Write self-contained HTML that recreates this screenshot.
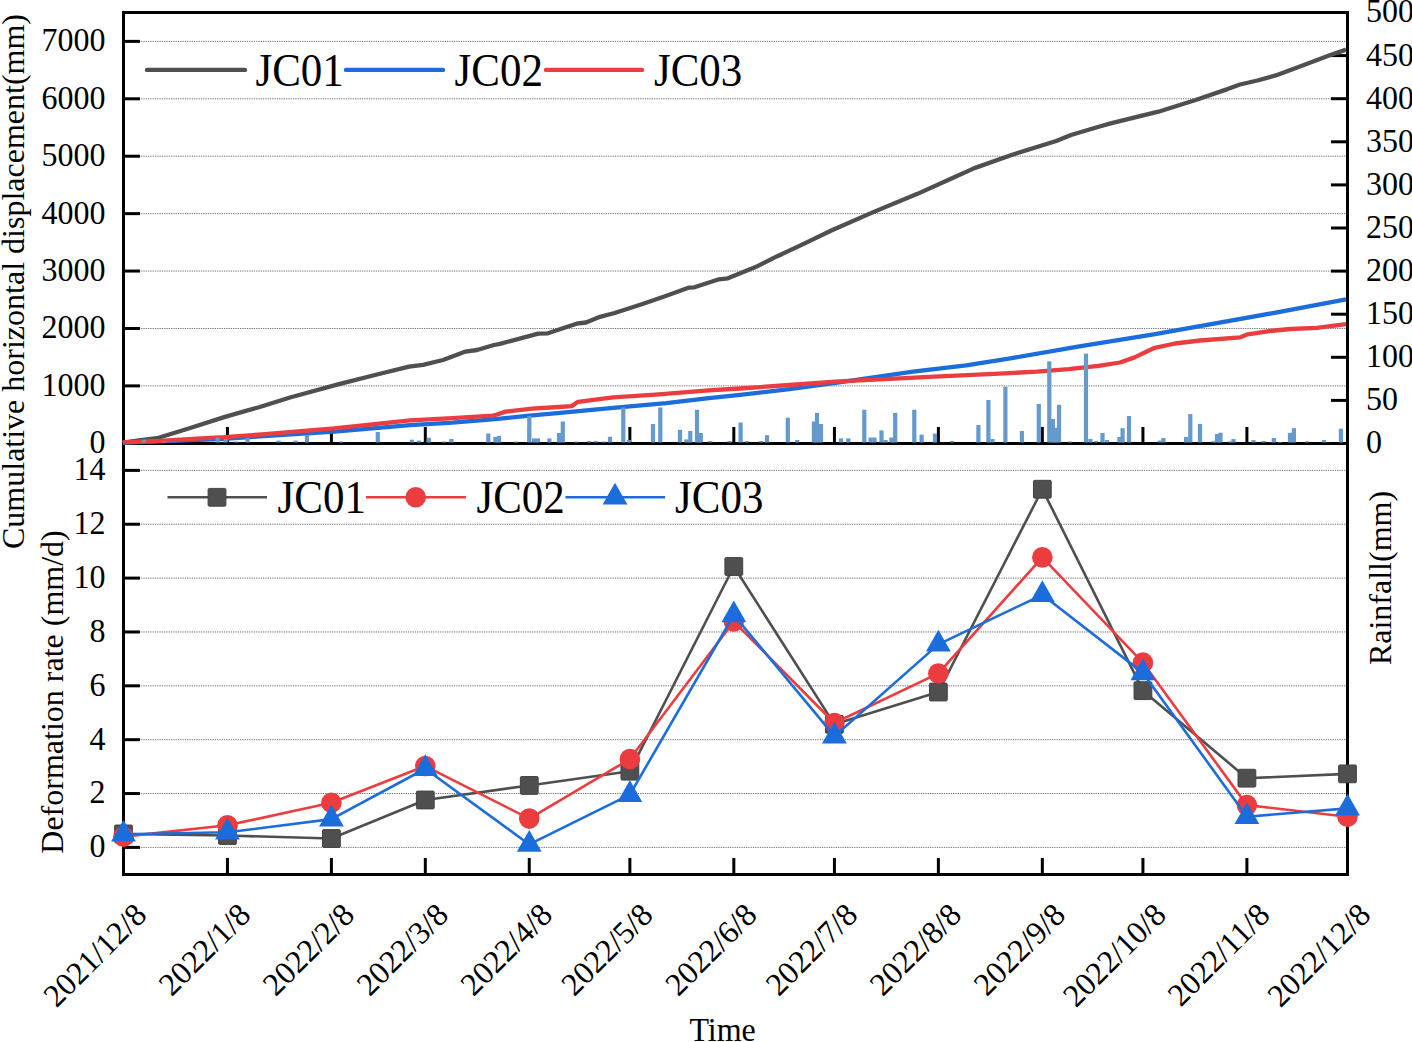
<!DOCTYPE html><html><head><meta charset="utf-8"><style>html,body{margin:0;padding:0;background:#fff;width:1412px;height:1042px;overflow:hidden}svg{display:block}text{font-family:'Liberation Serif',serif;fill:#000}</style></head><body>
<svg width="1412" height="1042" viewBox="0 0 1412 1042">
<rect width="1412" height="1042" fill="#fff"/>
<g stroke="#747474" stroke-width="1" stroke-dasharray="1.3,1" fill="none">
<line x1="125" y1="385.88" x2="1346" y2="385.88"/>
<line x1="125" y1="328.47" x2="1346" y2="328.47"/>
<line x1="125" y1="271.05" x2="1346" y2="271.05"/>
<line x1="125" y1="213.63" x2="1346" y2="213.63"/>
<line x1="125" y1="156.21" x2="1346" y2="156.21"/>
<line x1="125" y1="98.8" x2="1346" y2="98.8"/>
<line x1="125" y1="41.38" x2="1346" y2="41.38"/>
<line x1="125" y1="847.4" x2="1346" y2="847.4"/>
<line x1="125" y1="793.54" x2="1346" y2="793.54"/>
<line x1="125" y1="739.68" x2="1346" y2="739.68"/>
<line x1="125" y1="685.82" x2="1346" y2="685.82"/>
<line x1="125" y1="631.96" x2="1346" y2="631.96"/>
<line x1="125" y1="578.1" x2="1346" y2="578.1"/>
<line x1="125" y1="524.24" x2="1346" y2="524.24"/>
<line x1="125" y1="470.38" x2="1346" y2="470.38"/>
</g>
<g stroke="#000" stroke-width="3" fill="none">
<line x1="125" y1="385.88" x2="140" y2="385.88"/>
<line x1="125" y1="328.47" x2="140" y2="328.47"/>
<line x1="125" y1="271.05" x2="140" y2="271.05"/>
<line x1="125" y1="213.63" x2="140" y2="213.63"/>
<line x1="125" y1="156.21" x2="140" y2="156.21"/>
<line x1="125" y1="98.8" x2="140" y2="98.8"/>
<line x1="125" y1="41.38" x2="140" y2="41.38"/>
<line x1="125" y1="847.4" x2="140" y2="847.4"/>
<line x1="125" y1="793.54" x2="140" y2="793.54"/>
<line x1="125" y1="739.68" x2="140" y2="739.68"/>
<line x1="125" y1="685.82" x2="140" y2="685.82"/>
<line x1="125" y1="631.96" x2="140" y2="631.96"/>
<line x1="125" y1="578.1" x2="140" y2="578.1"/>
<line x1="125" y1="524.24" x2="140" y2="524.24"/>
<line x1="125" y1="470.38" x2="140" y2="470.38"/>
<line x1="1331" y1="400.4" x2="1346" y2="400.4"/>
<line x1="1331" y1="357.3" x2="1346" y2="357.3"/>
<line x1="1331" y1="314.2" x2="1346" y2="314.2"/>
<line x1="1331" y1="271.1" x2="1346" y2="271.1"/>
<line x1="1331" y1="228" x2="1346" y2="228"/>
<line x1="1331" y1="184.9" x2="1346" y2="184.9"/>
<line x1="1331" y1="141.8" x2="1346" y2="141.8"/>
<line x1="1331" y1="98.7" x2="1346" y2="98.7"/>
<line x1="1331" y1="55.6" x2="1346" y2="55.6"/>
<line x1="227.46" y1="427" x2="227.46" y2="442"/>
<line x1="227.46" y1="858" x2="227.46" y2="873"/>
<line x1="331.41" y1="427" x2="331.41" y2="442"/>
<line x1="331.41" y1="858" x2="331.41" y2="873"/>
<line x1="425.31" y1="427" x2="425.31" y2="442"/>
<line x1="425.31" y1="858" x2="425.31" y2="873"/>
<line x1="529.26" y1="427" x2="529.26" y2="442"/>
<line x1="529.26" y1="858" x2="529.26" y2="873"/>
<line x1="629.87" y1="427" x2="629.87" y2="442"/>
<line x1="629.87" y1="858" x2="629.87" y2="873"/>
<line x1="733.82" y1="427" x2="733.82" y2="442"/>
<line x1="733.82" y1="858" x2="733.82" y2="873"/>
<line x1="834.43" y1="427" x2="834.43" y2="442"/>
<line x1="834.43" y1="858" x2="834.43" y2="873"/>
<line x1="938.38" y1="427" x2="938.38" y2="442"/>
<line x1="938.38" y1="858" x2="938.38" y2="873"/>
<line x1="1042.34" y1="427" x2="1042.34" y2="442"/>
<line x1="1042.34" y1="858" x2="1042.34" y2="873"/>
<line x1="1142.94" y1="427" x2="1142.94" y2="442"/>
<line x1="1142.94" y1="858" x2="1142.94" y2="873"/>
<line x1="1246.9" y1="427" x2="1246.9" y2="442"/>
<line x1="1246.9" y1="858" x2="1246.9" y2="873"/>
</g>
<g stroke="#000" stroke-width="3" fill="none" stroke-linecap="square">
<line x1="123.5" y1="12.5" x2="1347.5" y2="12.5"/>
<line x1="123.5" y1="443.5" x2="1347.5" y2="443.5"/>
<line x1="123.5" y1="874.5" x2="1347.5" y2="874.5"/>
<line x1="123.5" y1="12.5" x2="123.5" y2="874.5"/>
<line x1="1347.5" y1="12.5" x2="1347.5" y2="874.5"/>
</g>
<g fill="none" stroke-width="4.3" stroke-linejoin="round" stroke-linecap="butt">
<polyline stroke="#4f4f4f" points="122.8,442.6 139,440.5 157,438.2 191,427.8 225,416.9 259,407.2 290,397.5 338,384.4 375,375 409,366.6 423,364.9 443,360 465.6,351.6 477,350 494,345 500,343.8 538.2,333.6 547.8,333.3 576.5,323.7 586,322.5 600,316.8 614.7,313 642.5,304 665.7,296 689.2,287.6 694.4,287.3 719,279.3 727.9,278.3 755,267.3 777.3,256.2 800,245.6 831.9,230.2 874.4,211.6 916.9,194.1 948.7,179.8 974.4,168.1 1013.7,154.3 1056.2,141 1071,135 1098.7,126.7 1110.6,123.4 1158.4,111.7 1195.6,100 1227.5,89.1 1240,84.5 1257.5,80.5 1275.7,75.4 1297.9,67.3 1330.4,55 1346,49.6"/>
<polyline stroke="#1c6ddc" points="122.8,442.6 160,441.3 192,440.2 225,438.8 260,436.3 334.4,431.6 410,425.2 452.5,422.7 495,419.2 526.9,415.9 560,412.8 613.1,407.9 666.2,403.1 709,398.2 740,394.9 789.6,389.2 839.1,382.4 913.1,371.7 966.2,365.3 1008.7,358.6 1079.4,346.4 1153.7,334.4 1200,326.1 1274.4,312.8 1346,299.4"/>
<polyline stroke="#eb3d3f" points="122.8,442.3 160.5,440.9 192.4,438.8 224.2,437.2 262,434.4 334.4,428.4 410,420.3 452.5,418.1 492.9,415.6 497,414.5 505.6,411.6 532.2,408.6 558.7,407 571.7,406.1 578,401.8 613.1,397.3 655.6,394.6 708.7,390.4 740,388.5 789.6,385 839.1,381.4 860,380.4 934.4,376.6 1005,373.3 1036.9,371.7 1068.7,369.1 1098.5,365.9 1120,362.5 1134.6,357.4 1153.7,348.2 1175,343.5 1200,340.5 1240.4,337.3 1247.8,334.3 1269,331.1 1290.3,329 1316.9,327.9 1346,324.2"/>
</g>
<g fill="#6699cc">
<rect x="141.9" y="439.7" width="4.2" height="2.8"/>
<rect x="161.9" y="441.4" width="4.2" height="1.1"/>
<rect x="215.6" y="437.7" width="4.2" height="4.8"/>
<rect x="223.6" y="439" width="4.2" height="3.5"/>
<rect x="234.4" y="441.5" width="4.2" height="1"/>
<rect x="245.4" y="437.7" width="4.2" height="4.8"/>
<rect x="276.5" y="440.6" width="4.2" height="1.9"/>
<rect x="293.5" y="440.6" width="4.2" height="1.9"/>
<rect x="304.9" y="435" width="4.2" height="7.5"/>
<rect x="338.9" y="441.5" width="4.2" height="1"/>
<rect x="375.7" y="432" width="4.2" height="10.5"/>
<rect x="409.7" y="439.7" width="4.2" height="2.8"/>
<rect x="416.8" y="440.6" width="4.2" height="1.9"/>
<rect x="426.7" y="437.7" width="4.2" height="4.8"/>
<rect x="441.9" y="441.5" width="4.2" height="1"/>
<rect x="449.3" y="439" width="4.2" height="3.5"/>
<rect x="486.2" y="433.5" width="4.2" height="9"/>
<rect x="493.3" y="436.9" width="4.2" height="5.6"/>
<rect x="496.9" y="435.8" width="4.2" height="6.7"/>
<rect x="513.9" y="441.6" width="4.2" height="0.9"/>
<rect x="527.2" y="416" width="4.2" height="26.5"/>
<rect x="531.9" y="438.4" width="4.2" height="4.1"/>
<rect x="535.9" y="438.4" width="4.2" height="4.1"/>
<rect x="547.3" y="438.4" width="4.2" height="4.1"/>
<rect x="556.9" y="433" width="4.2" height="9.5"/>
<rect x="560.7" y="421.5" width="4.2" height="21"/>
<rect x="574.4" y="441.5" width="4.2" height="1"/>
<rect x="586.9" y="441" width="4.2" height="1.5"/>
<rect x="593.5" y="441" width="4.2" height="1.5"/>
<rect x="601.5" y="441.5" width="4.2" height="1"/>
<rect x="607.9" y="436.8" width="4.2" height="5.7"/>
<rect x="621.2" y="407.5" width="4.2" height="35"/>
<rect x="626.9" y="440" width="4.2" height="2.5"/>
<rect x="650.9" y="424" width="4.2" height="18.5"/>
<rect x="658.2" y="407.5" width="4.2" height="35"/>
<rect x="677.9" y="429.8" width="4.2" height="12.7"/>
<rect x="684.3" y="439.4" width="4.2" height="3.1"/>
<rect x="688.2" y="431" width="4.2" height="11.5"/>
<rect x="694.9" y="409.7" width="4.2" height="32.8"/>
<rect x="698.7" y="433" width="4.2" height="9.5"/>
<rect x="708.2" y="441" width="4.2" height="1.5"/>
<rect x="727.4" y="441" width="4.2" height="1.5"/>
<rect x="738.5" y="422.5" width="4.2" height="20"/>
<rect x="744.9" y="441" width="4.2" height="1.5"/>
<rect x="759.2" y="441" width="4.2" height="1.5"/>
<rect x="764.9" y="435.2" width="4.2" height="7.3"/>
<rect x="785.7" y="417.7" width="4.2" height="24.8"/>
<rect x="795.2" y="440" width="4.2" height="2.5"/>
<rect x="811.8" y="421.5" width="4.2" height="21"/>
<rect x="814.9" y="412.9" width="4.2" height="29.6"/>
<rect x="818.9" y="424" width="4.2" height="18.5"/>
<rect x="838.9" y="438.4" width="4.2" height="4.1"/>
<rect x="846.2" y="438.4" width="4.2" height="4.1"/>
<rect x="862.2" y="409.7" width="4.2" height="32.8"/>
<rect x="868.5" y="437.5" width="4.2" height="5"/>
<rect x="872.4" y="437.5" width="4.2" height="5"/>
<rect x="879.4" y="430.4" width="4.2" height="12.1"/>
<rect x="883.5" y="440" width="4.2" height="2.5"/>
<rect x="889.3" y="437.5" width="4.2" height="5"/>
<rect x="893.1" y="412.9" width="4.2" height="29.6"/>
<rect x="912.2" y="409.7" width="4.2" height="32.8"/>
<rect x="919.5" y="434.6" width="4.2" height="7.9"/>
<rect x="932.9" y="433.6" width="4.2" height="8.9"/>
<rect x="949.9" y="441" width="4.2" height="1.5"/>
<rect x="976.3" y="425" width="4.2" height="17.5"/>
<rect x="986.3" y="400" width="4.2" height="42.5"/>
<rect x="990.4" y="439" width="4.2" height="3.5"/>
<rect x="1003.3" y="386.7" width="4.2" height="55.8"/>
<rect x="1019.8" y="431" width="4.2" height="11.5"/>
<rect x="1036.7" y="404" width="4.2" height="38.5"/>
<rect x="1047.2" y="361.3" width="4.2" height="81.2"/>
<rect x="1050.8" y="418.9" width="4.2" height="23.6"/>
<rect x="1053.6" y="427.8" width="4.2" height="14.7"/>
<rect x="1056.9" y="404.8" width="4.2" height="37.7"/>
<rect x="1067.9" y="441.5" width="4.2" height="1"/>
<rect x="1083.9" y="353.6" width="4.2" height="88.9"/>
<rect x="1088.3" y="439" width="4.2" height="3.5"/>
<rect x="1093.9" y="441" width="4.2" height="1.5"/>
<rect x="1100.4" y="433" width="4.2" height="9.5"/>
<rect x="1104.9" y="440" width="4.2" height="2.5"/>
<rect x="1117.3" y="437" width="4.2" height="5.5"/>
<rect x="1120.5" y="428.2" width="4.2" height="14.3"/>
<rect x="1126.9" y="416" width="4.2" height="26.5"/>
<rect x="1157.6" y="440.6" width="4.2" height="1.9"/>
<rect x="1161.3" y="438" width="4.2" height="4.5"/>
<rect x="1184" y="437" width="4.2" height="5.5"/>
<rect x="1188.2" y="414.1" width="4.2" height="28.4"/>
<rect x="1197.9" y="423.9" width="4.2" height="18.6"/>
<rect x="1211.2" y="441.3" width="4.2" height="1.2"/>
<rect x="1214.9" y="433.9" width="4.2" height="8.6"/>
<rect x="1218.4" y="432.7" width="4.2" height="9.8"/>
<rect x="1227.9" y="441.3" width="4.2" height="1.2"/>
<rect x="1231.4" y="439.1" width="4.2" height="3.4"/>
<rect x="1251.4" y="440.1" width="4.2" height="2.4"/>
<rect x="1261.5" y="441" width="4.2" height="1.5"/>
<rect x="1267.9" y="442.3" width="4.2" height="0.2"/>
<rect x="1271.7" y="438" width="4.2" height="4.5"/>
<rect x="1277.9" y="442" width="4.2" height="0.5"/>
<rect x="1287.9" y="432.8" width="4.2" height="9.7"/>
<rect x="1291.8" y="428.2" width="4.2" height="14.3"/>
<rect x="1305.2" y="441.3" width="4.2" height="1.2"/>
<rect x="1321.9" y="440.1" width="4.2" height="2.4"/>
<rect x="1325.9" y="442.3" width="4.2" height="0.2"/>
<rect x="1338.8" y="428.7" width="4.2" height="13.8"/>
</g>
<polyline fill="none" stroke="#4f4f4f" stroke-width="2.6" stroke-linejoin="round" points="123.5,833.93 227.46,835.55 331.41,838.51 425.31,800 529.26,785.46 629.87,771.19 733.82,566.52 834.43,724.33 938.38,692.01 1042.34,489.23 1142.94,690.67 1246.9,778.19 1347.5,773.88"/>
<rect x="114.6" y="825.03" width="17.8" height="17.8" rx="1.2" fill="#4f4f4f" stroke="#444" stroke-width="1"/>
<rect x="218.56" y="826.65" width="17.8" height="17.8" rx="1.2" fill="#4f4f4f" stroke="#444" stroke-width="1"/>
<rect x="322.51" y="829.61" width="17.8" height="17.8" rx="1.2" fill="#4f4f4f" stroke="#444" stroke-width="1"/>
<rect x="416.41" y="791.1" width="17.8" height="17.8" rx="1.2" fill="#4f4f4f" stroke="#444" stroke-width="1"/>
<rect x="520.36" y="776.56" width="17.8" height="17.8" rx="1.2" fill="#4f4f4f" stroke="#444" stroke-width="1"/>
<rect x="620.97" y="762.29" width="17.8" height="17.8" rx="1.2" fill="#4f4f4f" stroke="#444" stroke-width="1"/>
<rect x="724.92" y="557.62" width="17.8" height="17.8" rx="1.2" fill="#4f4f4f" stroke="#444" stroke-width="1"/>
<rect x="825.53" y="715.43" width="17.8" height="17.8" rx="1.2" fill="#4f4f4f" stroke="#444" stroke-width="1"/>
<rect x="929.48" y="683.11" width="17.8" height="17.8" rx="1.2" fill="#4f4f4f" stroke="#444" stroke-width="1"/>
<rect x="1033.44" y="480.33" width="17.8" height="17.8" rx="1.2" fill="#4f4f4f" stroke="#444" stroke-width="1"/>
<rect x="1134.04" y="681.77" width="17.8" height="17.8" rx="1.2" fill="#4f4f4f" stroke="#444" stroke-width="1"/>
<rect x="1238" y="769.29" width="17.8" height="17.8" rx="1.2" fill="#4f4f4f" stroke="#444" stroke-width="1"/>
<rect x="1338.6" y="764.98" width="17.8" height="17.8" rx="1.2" fill="#4f4f4f" stroke="#444" stroke-width="1"/>
<polyline fill="none" stroke="#eb3d3f" stroke-width="2.6" stroke-linejoin="round" points="123.5,836.63 227.46,825.32 331.41,802.7 425.31,766.07 529.26,818.58 629.87,759.07 733.82,621.46 834.43,722.98 938.38,673.43 1042.34,557.36 1142.94,662.66 1246.9,805.12 1347.5,816.7"/>
<circle cx="123.5" cy="836.63" r="10.3" fill="#eb3d3f"/>
<circle cx="227.46" cy="825.32" r="10.3" fill="#eb3d3f"/>
<circle cx="331.41" cy="802.7" r="10.3" fill="#eb3d3f"/>
<circle cx="425.31" cy="766.07" r="10.3" fill="#eb3d3f"/>
<circle cx="529.26" cy="818.58" r="10.3" fill="#eb3d3f"/>
<circle cx="629.87" cy="759.07" r="10.3" fill="#eb3d3f"/>
<circle cx="733.82" cy="621.46" r="10.3" fill="#eb3d3f"/>
<circle cx="834.43" cy="722.98" r="10.3" fill="#eb3d3f"/>
<circle cx="938.38" cy="673.43" r="10.3" fill="#eb3d3f"/>
<circle cx="1042.34" cy="557.36" r="10.3" fill="#eb3d3f"/>
<circle cx="1142.94" cy="662.66" r="10.3" fill="#eb3d3f"/>
<circle cx="1246.9" cy="805.12" r="10.3" fill="#eb3d3f"/>
<circle cx="1347.5" cy="816.7" r="10.3" fill="#eb3d3f"/>
<polyline fill="none" stroke="#1c6ddc" stroke-width="2.6" stroke-linejoin="round" points="123.5,834.2 227.46,832.32 331.41,819.12 425.31,768.76 529.26,844.44 629.87,794.62 733.82,614.99 834.43,736.18 938.38,644.35 1042.34,594.8 1142.94,672.89 1246.9,816.7 1347.5,808.35"/>
<polygon points="123.5,819.67 111.1,841.47 135.9,841.47" fill="#1c6ddc"/>
<polygon points="227.46,817.79 215.06,839.59 239.86,839.59" fill="#1c6ddc"/>
<polygon points="331.41,804.59 319.01,826.39 343.81,826.39" fill="#1c6ddc"/>
<polygon points="425.31,754.23 412.91,776.03 437.71,776.03" fill="#1c6ddc"/>
<polygon points="529.26,829.9 516.86,851.7 541.66,851.7" fill="#1c6ddc"/>
<polygon points="629.87,780.08 617.47,801.88 642.27,801.88" fill="#1c6ddc"/>
<polygon points="733.82,600.46 721.42,622.26 746.22,622.26" fill="#1c6ddc"/>
<polygon points="834.43,721.65 822.03,743.45 846.83,743.45" fill="#1c6ddc"/>
<polygon points="938.38,629.81 925.98,651.61 950.78,651.61" fill="#1c6ddc"/>
<polygon points="1042.34,580.26 1029.94,602.06 1054.74,602.06" fill="#1c6ddc"/>
<polygon points="1142.94,658.36 1130.54,680.16 1155.34,680.16" fill="#1c6ddc"/>
<polygon points="1246.9,802.17 1234.5,823.97 1259.3,823.97" fill="#1c6ddc"/>
<polygon points="1347.5,793.82 1335.1,815.62 1359.9,815.62" fill="#1c6ddc"/>
<text font-size="32" text-anchor="end" transform="translate(105.5,453.2) scale(1,1.05)">0</text>
<text font-size="32" text-anchor="end" transform="translate(105.5,395.78) scale(1,1.05)">1000</text>
<text font-size="32" text-anchor="end" transform="translate(105.5,338.37) scale(1,1.05)">2000</text>
<text font-size="32" text-anchor="end" transform="translate(105.5,280.95) scale(1,1.05)">3000</text>
<text font-size="32" text-anchor="end" transform="translate(105.5,223.53) scale(1,1.05)">4000</text>
<text font-size="32" text-anchor="end" transform="translate(105.5,166.11) scale(1,1.05)">5000</text>
<text font-size="32" text-anchor="end" transform="translate(105.5,108.7) scale(1,1.05)">6000</text>
<text font-size="32" text-anchor="end" transform="translate(105.5,51.28) scale(1,1.05)">7000</text>
<text font-size="32" text-anchor="end" transform="translate(105.5,857.3) scale(1,1.05)">0</text>
<text font-size="32" text-anchor="end" transform="translate(105.5,803.44) scale(1,1.05)">2</text>
<text font-size="32" text-anchor="end" transform="translate(105.5,749.58) scale(1,1.05)">4</text>
<text font-size="32" text-anchor="end" transform="translate(105.5,695.72) scale(1,1.05)">6</text>
<text font-size="32" text-anchor="end" transform="translate(105.5,641.86) scale(1,1.05)">8</text>
<text font-size="32" text-anchor="end" transform="translate(105.5,588) scale(1,1.05)">10</text>
<text font-size="32" text-anchor="end" transform="translate(105.5,534.14) scale(1,1.05)">12</text>
<text font-size="32" text-anchor="end" transform="translate(105.5,480.28) scale(1,1.05)">14</text>
<text font-size="32" text-anchor="start" transform="translate(1366,453.4) scale(1,1.05)">0</text>
<text font-size="32" text-anchor="start" transform="translate(1366,410.3) scale(1,1.05)">50</text>
<text font-size="32" text-anchor="start" transform="translate(1366,367.2) scale(1,1.05)">100</text>
<text font-size="32" text-anchor="start" transform="translate(1366,324.1) scale(1,1.05)">150</text>
<text font-size="32" text-anchor="start" transform="translate(1366,281) scale(1,1.05)">200</text>
<text font-size="32" text-anchor="start" transform="translate(1366,237.9) scale(1,1.05)">250</text>
<text font-size="32" text-anchor="start" transform="translate(1366,194.8) scale(1,1.05)">300</text>
<text font-size="32" text-anchor="start" transform="translate(1366,151.7) scale(1,1.05)">350</text>
<text font-size="32" text-anchor="start" transform="translate(1366,108.6) scale(1,1.05)">400</text>
<text font-size="32" text-anchor="start" transform="translate(1366,65.5) scale(1,1.05)">450</text>
<text font-size="32" text-anchor="start" transform="translate(1366,22.4) scale(1,1.05)">500</text>
<text font-size="32" text-anchor="end" transform="translate(140.5,909) rotate(-45)" x="0" y="0" dy="11">2021/12/8</text>
<text font-size="32" text-anchor="end" transform="translate(244.46,909) rotate(-45)" x="0" y="0" dy="11">2022/1/8</text>
<text font-size="32" text-anchor="end" transform="translate(348.41,909) rotate(-45)" x="0" y="0" dy="11">2022/2/8</text>
<text font-size="32" text-anchor="end" transform="translate(442.31,909) rotate(-45)" x="0" y="0" dy="11">2022/3/8</text>
<text font-size="32" text-anchor="end" transform="translate(546.26,909) rotate(-45)" x="0" y="0" dy="11">2022/4/8</text>
<text font-size="32" text-anchor="end" transform="translate(646.87,909) rotate(-45)" x="0" y="0" dy="11">2022/5/8</text>
<text font-size="32" text-anchor="end" transform="translate(750.82,909) rotate(-45)" x="0" y="0" dy="11">2022/6/8</text>
<text font-size="32" text-anchor="end" transform="translate(851.43,909) rotate(-45)" x="0" y="0" dy="11">2022/7/8</text>
<text font-size="32" text-anchor="end" transform="translate(955.38,909) rotate(-45)" x="0" y="0" dy="11">2022/8/8</text>
<text font-size="32" text-anchor="end" transform="translate(1059.34,909) rotate(-45)" x="0" y="0" dy="11">2022/9/8</text>
<text font-size="32" text-anchor="end" transform="translate(1159.94,909) rotate(-45)" x="0" y="0" dy="11">2022/10/8</text>
<text font-size="32" text-anchor="end" transform="translate(1263.9,909) rotate(-45)" x="0" y="0" dy="11">2022/11/8</text>
<text font-size="32" text-anchor="end" transform="translate(1364.5,909) rotate(-45)" x="0" y="0" dy="11">2022/12/8</text>
<text font-size="32" text-anchor="middle" transform="translate(23.5,281.5) rotate(-90)">Cumulative horizontal displacement(mm)</text>
<text font-size="32" text-anchor="middle" transform="translate(62.5,692) rotate(-90)">Deformation rate (mm/d)</text>
<text font-size="32" text-anchor="middle" transform="translate(1390.6,578) rotate(-90)">Rainfall(mm)</text>
<text font-size="32" text-anchor="middle" transform="translate(722.6,1040.8) scale(1,1.04)">Time</text>
<g font-size="43">
<g stroke-width="4.4" stroke-linecap="round">
<line x1="147" y1="69.9" x2="245" y2="69.9" stroke="#4f4f4f"/>
<line x1="346" y1="69.9" x2="443" y2="69.9" stroke="#1c6ddc"/>
<line x1="546" y1="69.9" x2="642" y2="69.9" stroke="#eb3d3f"/>
</g>
<text font-size="43" text-anchor="start" transform="translate(255.4,86.3) scale(1,1.06)">JC01</text>
<text font-size="43" text-anchor="start" transform="translate(454.5,86.3) scale(1,1.06)">JC02</text>
<text font-size="43" text-anchor="start" transform="translate(653.9,86.3) scale(1,1.06)">JC03</text>
<line x1="167.5" y1="497.3" x2="267" y2="497.3" stroke="#4f4f4f" stroke-width="2.6"/>
<rect x="208.1" y="488.4" width="17.8" height="17.8" rx="1.2" fill="#4f4f4f" stroke="#444" stroke-width="1"/>
<line x1="366" y1="497.3" x2="466" y2="497.3" stroke="#eb3d3f" stroke-width="2.6"/>
<circle cx="415.7" cy="497.3" r="10.3" fill="#eb3d3f"/>
<line x1="565.5" y1="497.3" x2="665" y2="497.3" stroke="#1c6ddc" stroke-width="2.6"/>
<polygon points="615,482.77 602.6,504.57 627.4,504.57" fill="#1c6ddc"/>
<text font-size="43" text-anchor="start" transform="translate(277.6,513.3) scale(1,1.06)">JC01</text>
<text font-size="43" text-anchor="start" transform="translate(476.4,513.3) scale(1,1.06)">JC02</text>
<text font-size="43" text-anchor="start" transform="translate(675.1,513.3) scale(1,1.06)">JC03</text>
</g>
</svg></body></html>
